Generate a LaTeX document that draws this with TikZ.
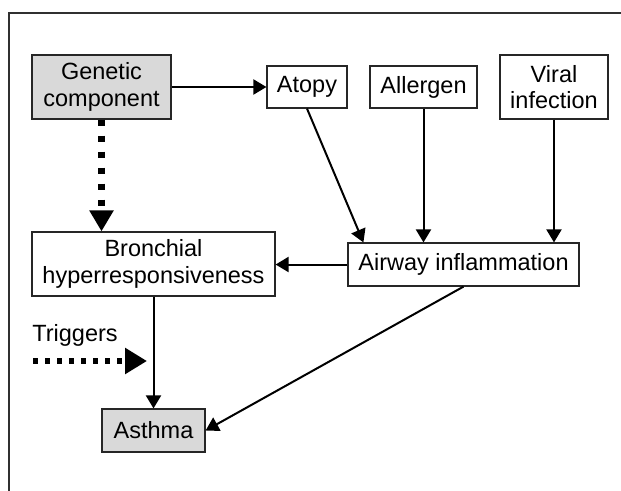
\documentclass[tikz,border=0pt]{standalone}
\usepackage{fontspec}
\setmainfont{Liberation Sans}
\usetikzlibrary{arrows.meta}
\definecolor{boxgray}{HTML}{D9D9D9}
\definecolor{framegray}{HTML}{303030}
\tikzset{
  box/.style={draw=black!85, line width=1.2pt, inner sep=0pt, align=center,
    font=\fontsize{23.5}{26.5}\selectfont},
  greybox/.style={box, fill=boxgray},
  arr/.style={line width=2pt, -{Triangle[length=13pt,width=15pt]}},
  dotarrv/.style={line width=6.5pt, dash pattern=on 6pt off 10pt,
    -{Triangle[length=21pt,width=23pt]}},
  dotarrh/.style={line width=6pt, dash pattern=on 5pt off 7pt,
    -{Triangle[length=22pt,width=25pt]}},
}
\begin{document}
\begin{tikzpicture}[x=1pt,y=-1pt]
\useasboundingbox (0,0) rectangle (621,490);
\draw[framegray, line width=1.3pt] (9,495) -- (9,13) -- (625,13);

\node[greybox, minimum width=139pt, minimum height=64pt] (gen) at (101.5,87) {Genetic\\component};
\node[box, minimum width=80pt, minimum height=42pt] (atopy) at (307,87) {Atopy};
\node[box, minimum width=107pt, minimum height=42pt] (all) at (423.5,87) {Allergen};
\node[box, minimum width=108pt, minimum height=64pt] (vir) at (554,87) {Viral\\infection};
\node[box, minimum width=243pt, minimum height=64pt] (bron) at (153.5,264) {Bronchial\\hyperresponsiveness};
\node[box, minimum width=231pt, minimum height=43pt] (air) at (463.5,264.5) {Airway inflammation};
\node[greybox, minimum width=103pt, minimum height=43pt] (asth) at (153.5,430.5) {Asthma};
\node[font=\fontsize{23.5}{26.5}\selectfont, inner sep=0pt] (trig) at (75,335) {Triggers};

\coordinate (ts) at (33,361);
\coordinate (te) at (147,361);

\draw[arr] (gen.east) -- (atopy.west);
\draw[dotarrv] (gen.south) -- (gen.south |- bron.north);
\draw[arr] (atopy.south) -- ([xshift=16pt]air.north west);
\draw[arr] (all.south) -- (all.south |- air.north);
\draw[arr] (vir.south) -- (vir.south |- air.north);
\draw[arr] (air.west) -- (air.west -| bron.east);
\draw[arr] (bron.south) -- (asth.north);
\draw[arr] (air.south) -- (asth.east);
\draw[dotarrh] (ts) -- (te);
\end{tikzpicture}
\end{document}
